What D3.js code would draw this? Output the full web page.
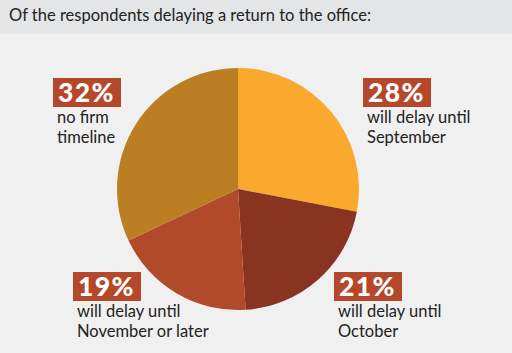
<!DOCTYPE html>
<html>
<head>
<meta charset="utf-8">
<script src="https://cdn.jsdelivr.net/npm/d3@7"></script>
<style>
html,body{margin:0;padding:0;background:#f0f0f0;}
svg{display:block;}
</style>
</head>
<body>
<div id="chart"></div>
<script>
const title = "Of the respondents delaying a return to the office:";
const categories = ["September","October","November or later","No firm timeline"];
const values = [28, 21, 19, 32];
const captions = [
  ["will delay until","September"],
  ["will delay until","October"],
  ["will delay until","November or later"],
  ["no firm","timeline"]
];

// layout for the label blocks (box top-left), one per slice
const labelPos = [[363,78],[334,272],[73,272],[53,78]];

const W=512,H=353;
const svg=d3.select("#chart").append("svg").attr("width",W).attr("height",H);
svg.append("rect").attr("width",W).attr("height",H).attr("fill","#f0f0f0");
svg.append("rect").attr("width",W).attr("height",34).attr("fill","#e4e5e6");
svg.append("text").attr("x",9).attr("y",21)
  .attr("font-family","Lato, 'Open Sans', sans-serif").attr("font-size",16.5)
  .attr("fill","#222").text(title);

const color=d3.scaleOrdinal().domain(categories)
  .range(["#fba82f","#893420","#b04a2a","#bc7e22"]);

const cx=238,cy=189,r=121;
const pie=d3.pie().sort(null).value(d=>d.v);
const arc=d3.arc().innerRadius(0).outerRadius(r);
const arcs=pie(categories.map((c,i)=>({c,v:values[i]})));
const g=svg.append("g").attr("transform",`translate(${cx},${cy})`);
g.selectAll("path").data(arcs).join("path")
  .attr("d",arc).attr("fill",d=>color(d.data.c));

const lab=svg.selectAll("g.lab").data(arcs).join("g").attr("class","lab")
  .attr("transform",(d,i)=>`translate(${labelPos[i][0]},${labelPos[i][1]})`);
lab.append("rect").attr("width",68).attr("height",29).attr("fill","#b5472a");
lab.append("text").attr("x",5).attr("y",24)
  .attr("font-family","Lato, sans-serif").attr("font-weight",900)
  .attr("font-size",26.5).attr("letter-spacing",1.4).attr("fill","#fff")
  .text(d=>d.data.v+"%");
lab.each(function(d,i){
  const t=d3.select(this).append("text")
    .attr("font-family","Lato, 'Open Sans', sans-serif").attr("font-size",16.5).attr("fill","#222");
  captions[i].forEach((s,k)=>t.append("tspan").attr("x",4).attr("y",45+k*19.5).text(s));
});
</script>
</body>
</html>
